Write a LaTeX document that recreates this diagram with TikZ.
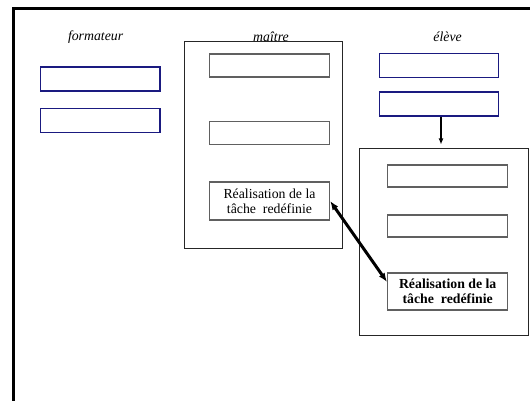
\documentclass[tikz,border=0pt]{standalone}
\usepackage{fontspec}
\setmainfont{Liberation Serif}
\usetikzlibrary{arrows.meta,calc}
\definecolor{navy}{HTML}{1A1A80}
\definecolor{boxgray}{HTML}{606060}
\begin{document}
\begin{tikzpicture}[x=1pt,y=-1pt,
  every node/.style={font=\fontsize{13.8}{15}\selectfont},
  title/.style={font=\fontsize{13.8}{15}\selectfont\itshape},
  bluebox/.style={draw=navy,line width=1.3pt,rectangle,inner sep=0pt,minimum width=119.5pt,minimum height=24pt},
  graybox/.style={draw=boxgray,line width=1.3pt,rectangle,inner sep=0pt,minimum width=120pt,minimum height=23pt,align=center},
  outerbox/.style={draw=black!85,line width=1pt,rectangle,inner sep=0pt},
  thickarrow/.style={line width=3pt,{Latex[length=9pt,width=7pt]}-{Latex[length=9pt,width=7pt]}}
]
\useasboundingbox (0,0) rectangle (530,401);
\draw[line width=3pt] (13,401) -- (13,9) -- (530,9);

% titles
\node[title] (tf) at (95.6,37) {formateur};
\node[title] (tm) at (271,37) {maître};
\node[title] (te) at (447.6,37) {élève};

% formateur
\node[bluebox] (f1) at (100.25,79) {};
\node[bluebox] (f2) at (100.25,120.75) {};

% maître
\node[outerbox,minimum width=158.2pt,minimum height=206.5pt] (mo) at (263.6,144.75) {};
\node[graybox] (m1) at (269.5,65.5) {};
\node[graybox] (m2) at (269.5,133.25) {};
\node[graybox,minimum height=38pt] (m3) at (269.5,201) {Réalisation de la\\tâche\ \ redéfinie};

% élève
\node[bluebox] (e1) at (439,65.5) {};
\node[bluebox] (e2) at (439,104) {};
\node[outerbox,minimum width=169.7pt,minimum height=186pt] (eo) at (443.85,242) {};
\node[graybox,minimum height=22pt] (e3) at (447.7,176) {};
\node[graybox,minimum height=22pt] (e4) at (447.7,226) {};
\node[graybox,minimum height=37pt,font=\fontsize{13.8}{15}\selectfont\bfseries] (e5) at (447.7,291.5) {Réalisation de la\\tâche\ \ redéfinie};

% connectors
\draw[line width=2pt,-{Latex[length=6pt,width=5pt]},shorten >=4pt] ([xshift=2pt]e2.south) -- ([xshift=2pt]e2.south |- eo.north);
\draw[thickarrow] (m3.east) -- ([yshift=9.5pt]e5.west);
\end{tikzpicture}
\end{document}
